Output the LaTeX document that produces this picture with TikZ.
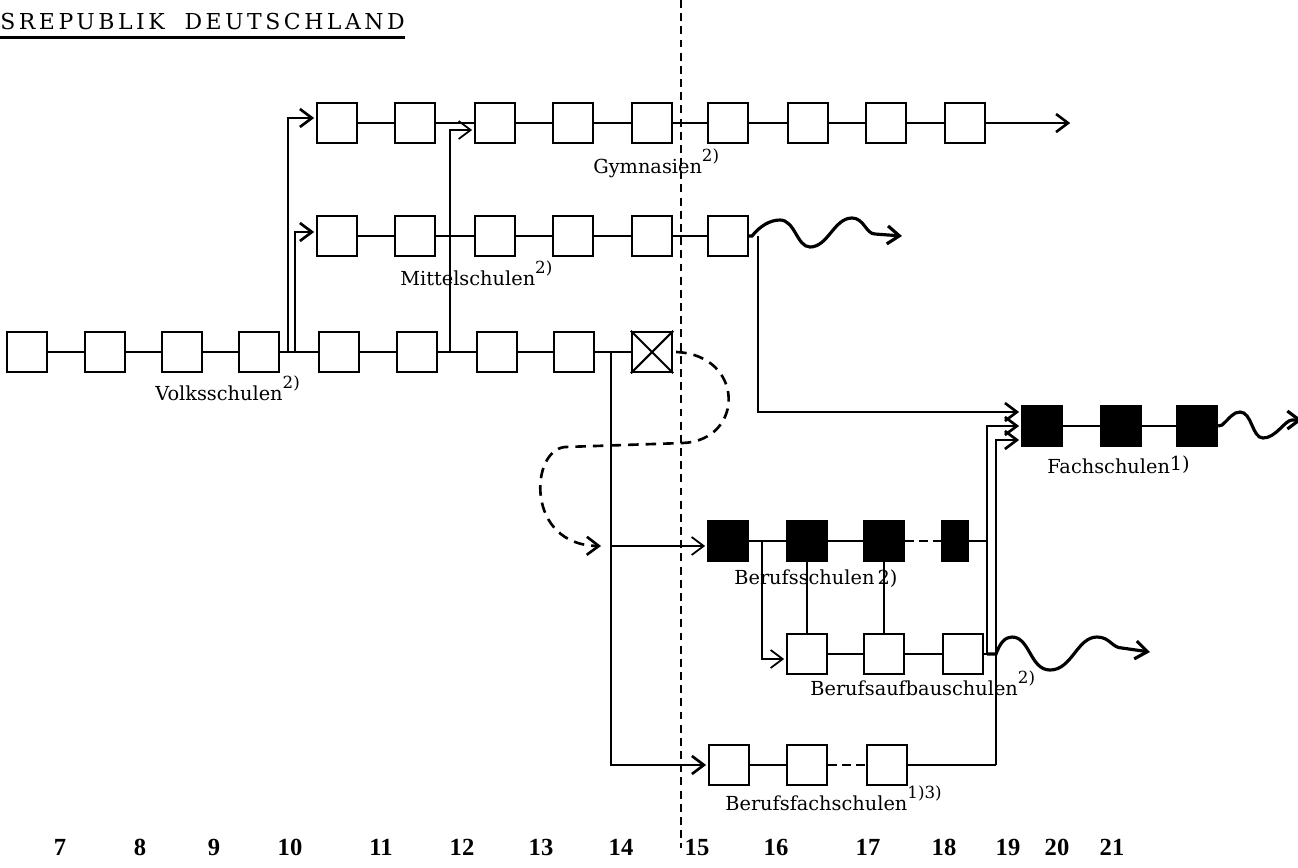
\documentclass[tikz,border=0pt]{standalone}
\usepackage{fontspec}
\setmainfont{DejaVu Serif}
\newfontfamily\numfont{Liberation Serif}
\usetikzlibrary{arrows.meta}

\newcommand\fnmark[1]{\raisebox{1.1ex}{\fontsize{9.5}{11}\selectfont #1}}

\tikzset{
  sbox/.style={draw, line width=1.3pt, minimum width=0.8cm, minimum height=0.8cm, inner sep=0pt},
  fbox/.style={sbox, fill=black},
  lbl/.style={anchor=base west, inner sep=0pt, font=\fontsize{11}{13}\selectfont},
  num/.style={anchor=base, inner sep=0pt, font=\numfont\bfseries\fontsize{14}{16}\selectfont},
  link/.style={line width=1pt},
  flow/.style={line width=1.5pt, ->, shorten >=1pt},
  wave/.style={line width=1.8pt, ->},
  cutline/.style={line width=1.1pt, dash pattern=on 4.5pt off 3pt},
  loopline/.style={line width=1.5pt, dash pattern=on 6pt off 4pt, ->},
  gapline/.style={line width=1pt, dash pattern=on 5pt off 3pt},
}

\begin{document}
\begin{tikzpicture}[x=0.02cm, y=-0.02cm, >={Straight Barb[length=2.4mm,width=3.6mm]}]
  \clip (0,0) rectangle (1298,867);
  % title
  \node[anchor=base west, inner sep=0pt, font=\fontsize{12.5}{15}\selectfont\addfontfeature{LetterSpace=16}] (title) at (0,29) {SREPUBLIK\hspace{0.9em}DEUTSCHLAND};
  \draw[line width=1.8pt] ([yshift=-5pt]title.base west) -- ([yshift=-5pt]title.base east);
  % school age line
  \draw[cutline] (681,0) -- (681,848);
  % Volksschulen
  \node[sbox] (v1) at (27,352) {};
  \node[sbox] (v2) at (105,352) {};
  \node[sbox] (v3) at (182,352) {};
  \node[sbox] (v4) at (259,352) {};
  \node[sbox] (v5) at (339,352) {};
  \node[sbox] (v6) at (417,352) {};
  \node[sbox] (v7) at (497,352) {};
  \node[sbox] (v8) at (574,352) {};
  \node[sbox] (vx) at (652,352) {};
  \draw[line width=1.2pt] (vx.north west) -- (vx.south east) (vx.north east) -- (vx.south west);
  \draw[link] (v1) -- (v2) -- (v3) -- (v4) -- (v5) -- (v6) -- (v7) -- (v8) -- (vx);
  \node[lbl] (volkslbl) at (155,400) {Volksschulen\fnmark{2)}};
  % Gymnasien
  \node[sbox] (g1) at (337,123) {};
  \node[sbox] (g2) at (415,123) {};
  \node[sbox] (g3) at (495,123) {};
  \node[sbox] (g4) at (573,123) {};
  \node[sbox] (g5) at (652,123) {};
  \node[sbox] (g6) at (728,123) {};
  \node[sbox] (g7) at (808,123) {};
  \node[sbox] (g8) at (886,123) {};
  \node[sbox] (g9) at (965,123) {};
  \coordinate (gend) at (1072,123);
  \draw[link] (g1) -- (g2) -- (g3) -- (g4) -- (g5) -- (g6) -- (g7) -- (g8) -- (g9);
  \draw[flow] (g9) -- (gend);
  \node[lbl] (gymlbl) at (593,173) {Gymnasien\fnmark{2)}};
  % Mittelschulen
  \node[sbox] (m1) at (337,236) {};
  \node[sbox] (m2) at (415,236) {};
  \node[sbox] (m3) at (495,236) {};
  \node[sbox] (m4) at (573,236) {};
  \node[sbox] (m5) at (652,236) {};
  \node[sbox] (m6) at (728,236) {};
  \coordinate (mend) at (902,236);
  \draw[link] (m1) -- (m2) -- (m3) -- (m4) -- (m5) -- (m6);
  \draw[wave] (m6.east) -- (752,236) .. controls (760,226) and (770,220) .. (780,220)
    .. controls (795,220) and (797,247) .. (810,247) .. controls (828,247) and (834,218) .. (852,218)
    .. controls (864,218) and (866,234) .. (875,234) -- (mend);
  \node[lbl] (mitlbl) at (400,285) {Mittelschulen\fnmark{2)}};
  % branches out of the Volksschule
  \coordinate (jg) at (288,352);
  \coordinate (jm) at (295,352);
  \coordinate (jt) at (450,352);
  \coordinate (jb) at (611,352);
  \coordinate (jb2) at (611,546);
  \draw[flow] (jg) |- ([yshift=0.1cm]g1.west);
  \draw[flow] (jm) |- ([yshift=0.08cm]m1.west);
  \draw[link, ->, shorten >=1pt] (jt) |- ([yshift=-0.14cm]g3.west);
  % Fachschulen
  \node[fbox] (f1) at (1042,426) {};
  \node[fbox] (f2) at (1121,426) {};
  \node[fbox] (f3) at (1197,426) {};
  \coordinate (fend) at (1302,420);
  \draw[line width=1.2pt] (f1) -- (f2) -- (f3);
  \draw[wave] (f3.east) -- (1222,425) .. controls (1230,418) and (1233,412) .. (1240,412)
    .. controls (1252,412) and (1252,438) .. (1263,438) .. controls (1276,438) and (1285,420) .. (1292,420) -- (fend);
  \node[lbl] (fachlbl) at (1047,473) {Fachschulen\raisebox{0.3ex}{1)}};
  \coordinate (jf) at (758,236);
  \draw[flow] (jf) |- ([yshift=0.28cm]f1.west);
  % Berufsschulen
  \node[fbox] (b1) at (728,541) {};
  \node[fbox] (b2) at (807,541) {};
  \node[fbox] (b3) at (884,541) {};
  \node[fbox, minimum width=0.5cm] (b4) at (955,541) {};
  \node[lbl] (berlbl) at (734,584) {Berufsschulen\,2)};
  % Berufsaufbauschulen
  \node[sbox] (a1) at (807,654) {};
  \node[sbox] (a2) at (884,654) {};
  \node[sbox] (a3) at (963,654) {};
  \node[lbl] (aufbaulbl) at (810,695) {Berufsaufbauschulen\fnmark{2)}};
  % Berufsfachschulen
  \node[sbox] (c1) at (729,765) {};
  \node[sbox] (c2) at (807,765) {};
  \node[sbox] (c3) at (887,765) {};
  \node[lbl] (fachslbl) at (725,810) {Berufsfachschulen\fnmark{1)3)}};
  % links of the vocational branch
  \coordinate (ka) at (987,654);
  \coordinate (kc) at (996,765);
  \coordinate (jb3) at (762,541);
  \coordinate (aend) at (1150,652);
  \draw[flow] (jb) |- (c1.west);
  \draw[link, ->, shorten >=1pt] (jb2) -- (b1.west |- jb2);
  \draw[link] (b1) -- (b2) -- (b3);
  \draw[gapline] (b3) -- (b4);
  \draw[link] (b4) -- (b4 -| ka);
  \draw[link, ->, shorten >=1pt] (jb3) |- ([yshift=-0.1cm]a1.west);
  \draw[line width=1.5pt] (b2) -- (a1);
  \draw[line width=1.5pt] (b3) -- (a2);
  \draw[link] (a1) -- (a2) -- (a3) -- (ka);
  \draw[link] (c1) -- (c2);
  \draw[gapline] (c2) -- (c3);
  \draw[line width=1.5pt] (c3) -- (kc);
  \draw[flow] (ka) |- (f1.west);
  \draw[flow] (kc) |- ([yshift=-0.28cm]f1.west);
  \draw[wave] (ka) -- (996,654) .. controls (1000,643) and (1005,637) .. (1012,637)
    .. controls (1030,637) and (1030,670) .. (1050,670) .. controls (1072,670) and (1077,637) .. (1097,637)
    .. controls (1110,637) and (1112,648) .. (1122,648) -- (aend);
  % dashed loop from the ninth school year
  \draw[loopline] ([xshift=0.06cm]vx.east) .. controls (745,355) and (745,440) .. (683,443) -- (565,447)
    .. controls (530,450) and (525,545) .. ([xshift=-0.2cm]jb2);
  % ages
  \node[num] (a7) at (60,855) {7};
  \node[num] (a8) at (140,855) {8};
  \node[num] (a9) at (214,855) {9};
  \node[num] (a10) at (290,855) {10};
  \node[num] (a11) at (381,855) {11};
  \node[num] (a12) at (462,855) {12};
  \node[num] (a13) at (541,855) {13};
  \node[num] (a14) at (621,855) {14};
  \node[num] (a15) at (697,855) {15};
  \node[num] (a16) at (776,855) {16};
  \node[num] (a17) at (868,855) {17};
  \node[num] (a18) at (944,855) {18};
  \node[num] (a19) at (1008,855) {19};
  \node[num] (a20) at (1057,855) {20};
  \node[num] (a21) at (1112,855) {21};
\end{tikzpicture}
\end{document}
